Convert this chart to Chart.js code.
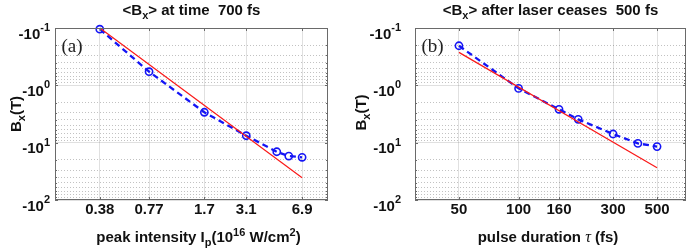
<!DOCTYPE html>
<html><head><meta charset="utf-8">
<script src="https://cdn.jsdelivr.net/npm/chart.js@4/dist/chart.umd.min.js"></script>
<style>
html,body{margin:0;padding:0;background:#fff;width:694px;height:252px;overflow:hidden}
canvas{position:absolute;top:0}
#c1{left:0}#c2{left:347px}
</style></head>
<body>
<canvas id="c1" width="347" height="252"></canvas>
<canvas id="c2" width="347" height="252"></canvas>
<script>
// ---- Panel (a): <Bx> at time 700 fs vs peak intensity ----
const intensity      = [0.38, 0.77, 1.7, 3.1, 4.8, 5.7, 6.9];
const bxIntensity    = [-0.105, -0.578, -2.95, -7.57, -14.4, -17.1, -18.0];
const fitIntensityX  = [0.38, 6.9];
const fitIntensityB  = [-0.1, -40.8];
const intensityTicks = [0.38, 0.77, 1.7, 3.1, 6.9];

// ---- Panel (b): <Bx> after laser ceases 500 fs vs pulse duration ----
const duration      = [50, 100, 160, 200, 300, 400, 500];
const bxDuration    = [-0.204, -1.13, -2.62, -3.92, -7.06, -10.3, -11.7];
const fitDurationX  = [50, 500];
const fitDurationB  = [-0.266, -27.4];
const durationTicks = [50, 100, 160, 300, 500];

// ---- Shared y axis (negative log scale) ----
const yDecades   = [-0.1, -1, -10, -100];
const yTickBase  = '-10';
const yTickExps  = ['-1', '0', '1', '2'];

const FB = 'bold 15px "Liberation Sans", Arial, sans-serif';
const FS = 'bold 11px "Liberation Sans", Arial, sans-serif';

function richWidth(ctx, segs){let w=0;for(const s of segs){ctx.font=s.f;w+=ctx.measureText(s.t).width;}return w;}
function drawRich(ctx, segs, x, y, align){
  const w = richWidth(ctx, segs);
  let cx = align==='center' ? x-w/2 : align==='right' ? x-w : x;
  ctx.textAlign='left'; ctx.textBaseline='alphabetic';
  for(const s of segs){ctx.font=s.f; ctx.fillText(s.t, cx, y+(s.dy||0)); cx += ctx.measureText(s.t).width;}
}

function yGridValues(){
  const mags = yDecades.map(Math.abs);
  const vals = [];
  for(let d=0; d<mags.length; d++){
    vals.push(mags[d]);
    if(d<mags.length-1){ for(let k=2;k<=9;k++) vals.push(+(mags[d]*k).toPrecision(3)); }
  }
  return vals;
}
function isDecade(v){ return yDecades.some(d=>Math.abs(Math.abs(d)-v)<1e-9); }

function makeChart(id, cfg){
  const deco = {
    id:'deco'+id,
    afterDraw(chart){
      const ctx = chart.ctx, a = chart.chartArea;
      const xs = chart.scales.x, ys = chart.scales.y;
      ctx.save();
      // frame
      ctx.strokeStyle = '#6a6a6a'; ctx.lineWidth = 1;
      ctx.strokeRect(Math.round(a.left)+0.5, Math.round(a.top)+0.5, Math.round(a.right-a.left)-1, Math.round(a.bottom-a.top)-1);
      // inward tick marks
      ctx.beginPath();
      for(const v of yGridValues()){
        const p = Math.round(ys.getPixelForValue(v))+0.5;
        const L = isDecade(v) ? 3 : 2;
        ctx.moveTo(a.left, p); ctx.lineTo(a.left+L, p);
        ctx.moveTo(a.right, p); ctx.lineTo(a.right-L, p);
      }
      for(const v of cfg.xTicks){
        const p = Math.round(xs.getPixelForValue(v))+0.5;
        ctx.moveTo(p, a.bottom); ctx.lineTo(p, a.bottom-3);
        ctx.moveTo(p, a.top); ctx.lineTo(p, a.top+3);
      }
      ctx.stroke();
      ctx.fillStyle = '#111';
      // y tick labels
      yDecades.forEach((d,i)=>{
        const p = ys.getPixelForValue(Math.abs(d));
        const wExp = (ctx.font=FS, ctx.measureText(yTickExps[i]).width);
        ctx.font = FB;
        ctx.textAlign='right'; ctx.textBaseline='alphabetic';
        ctx.fillText(yTickBase, cfg.yLabRight - wExp, p+10.5);
        ctx.font = FS; ctx.textAlign='left';
        ctx.fillText(yTickExps[i], cfg.yLabRight - wExp, p+3);
      });
      // title
      drawRich(ctx, cfg.title, (a.left+a.right)/2, 15, 'center');
      // x label
      drawRich(ctx, cfg.xlabel, cfg.xlabelCx, 241.5, 'center');
      // y label (rotated)
      ctx.save();
      ctx.translate(cfg.ylabelBase, cfg.ylabelCy);
      ctx.rotate(-Math.PI/2);
      drawRich(ctx, [{t:'B',f:FB},{t:'x',f:FS,dy:4},{t:'(T)',f:FB}], 0, 0, 'center');
      ctx.restore();
      // panel letter
      ctx.fillStyle = '#222';
      ctx.font = '19px "Liberation Serif", "Times New Roman", serif';
      ctx.textAlign='left'; ctx.textBaseline='alphabetic';
      ctx.fillText(cfg.letter, a.left+6.5, 52);
      ctx.restore();
    }
  };
  return new Chart(document.getElementById(id), {
    type:'scatter',
    data:{datasets:[
      {data: cfg.fitX.map((x,i)=>({x, y:Math.abs(cfg.fitY[i])})), showLine:true,
       borderColor:'rgb(250,25,25)', borderWidth:1.2, pointRadius:0, order:0, clip:10},
      {data: cfg.x.map((x,i)=>({x, y:Math.abs(cfg.y[i])})), showLine:true,
       borderColor:'rgb(20,20,245)', borderWidth:2.3, borderDash:[6,4],
       pointRadius:3.6, pointBorderWidth:1.6, pointBackgroundColor:'rgba(0,0,0,0)',
       pointBorderColor:'rgb(20,20,245)', order:1, clip:10}
    ]},
    options:{
      responsive:false, animation:false, devicePixelRatio:1, events:[],
      layout:{padding:{top:28, right:cfg.padRight, left:0, bottom:0}},
      plugins:{legend:{display:false}, tooltip:{enabled:false}, title:{display:false}},
      scales:{
        x:{type:'logarithmic', min:cfg.xMin, max:cfg.xMax,
           afterBuildTicks:(s)=>{ s.ticks = cfg.xTicks.map(v=>({value:v})); },
           afterFit:(s)=>{ s.height = 52; },
           ticks:{autoSkip:false, maxRotation:0, padding:1, color:'#111',
                  font:{family:'"Liberation Sans", Arial, sans-serif', size:15, weight:'bold'},
                  callback:(v)=>String(v)},
           grid:{color:'rgba(0,0,0,0.12)', lineWidth:1, drawTicks:false},
           border:{display:false}},
        y:{type:'logarithmic', reverse:true, min:Math.abs(yDecades[0]), max:Math.abs(yDecades[yDecades.length-1]),
           afterBuildTicks:(s)=>{ s.ticks = yGridValues().map(v=>({value:v})); },
           afterFit:(s)=>{ s.width = cfg.padLeft; },
           ticks:{display:false},
           grid:{drawTicks:false, lineWidth:1,
                 color:(c)=> (c.tick && isDecade(c.tick.value)) ? 'rgba(0,0,0,0.12)' : 'rgba(0,0,0,0.24)'},
           border:{display:false, dash:(c)=> (c.tick && isDecade(c.tick.value)) ? [] : [1,2]}}
      }
    },
    plugins:[deco]
  });
}

makeChart('c1', {
  x:intensity, y:bxIntensity, fitX:fitIntensityX, fitY:fitIntensityB, xTicks:intensityTicks,
  xMin:0.2, xMax:10, padLeft:55, padRight:19, yLabRight:50, letter:'(a)',
  title:[{t:'<B',f:FB},{t:'x',f:FS,dy:4},{t:'> at time  700 fs',f:FB}],
  xlabel:[{t:'peak intensity I',f:FB},{t:'p',f:FS,dy:4},{t:'(10',f:FB},{t:'16',f:FS,dy:-6},{t:' W/cm',f:FB},{t:'2',f:FS,dy:-6},{t:')',f:FB}],
  xlabelCx:198.5, ylabelBase:20.5, ylabelCy:114
});
makeChart('c2', {
  x:duration, y:bxDuration, fitX:fitDurationX, fitY:fitDurationB, xTicks:durationTicks,
  xMin:30, xMax:700, padLeft:68, padRight:8, yLabRight:54, letter:'(b)',
  title:[{t:'<B',f:FB},{t:'x',f:FS,dy:4},{t:'> after laser ceases  500 fs',f:FB}],
  xlabel:[{t:'pulse duration ',f:FB},{t:'τ',f:'italic 16px "Liberation Serif", serif'},{t:' (fs)',f:FB}],
  xlabelCx:201, ylabelBase:18.7, ylabelCy:112.5
});
</script>
</body></html>
